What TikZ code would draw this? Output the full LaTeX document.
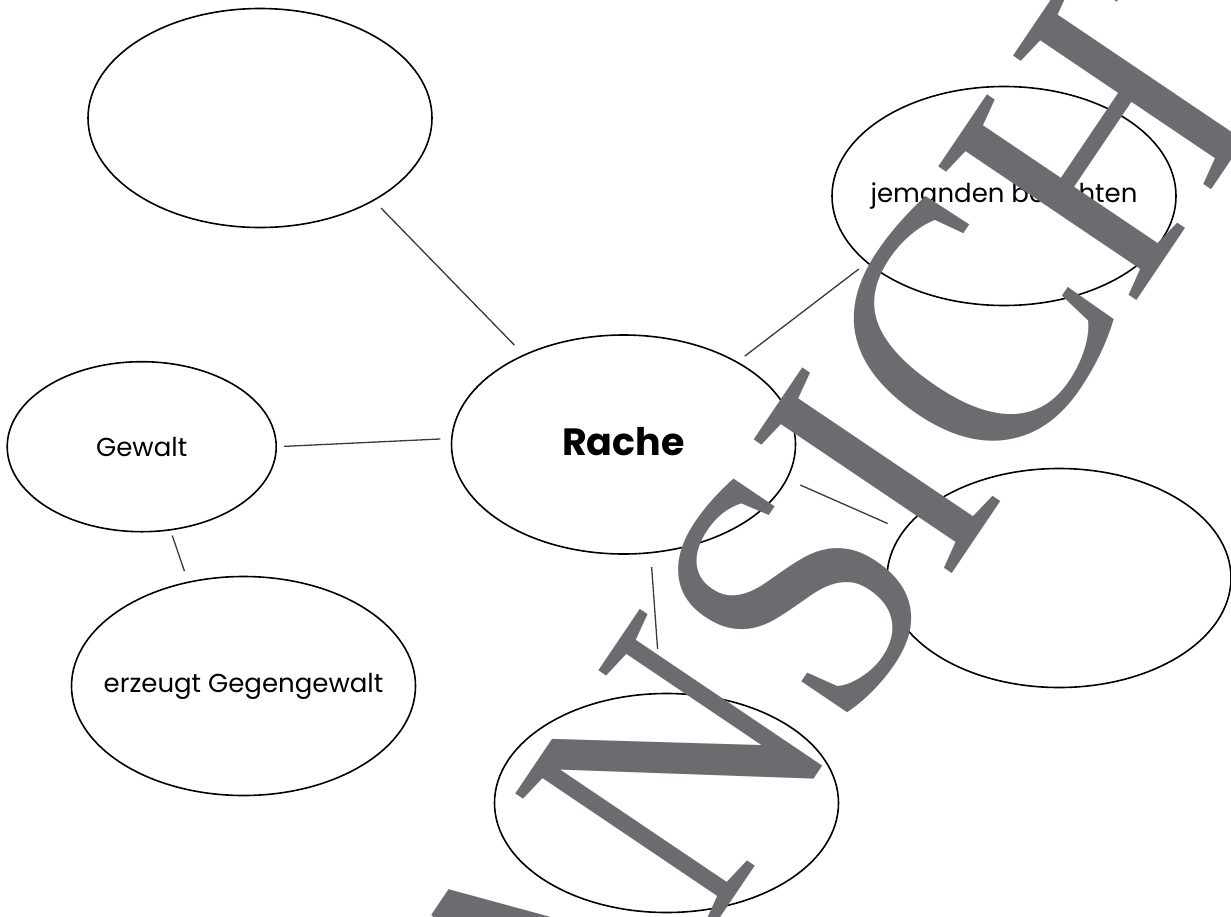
\documentclass[tikz,border=0pt]{standalone}
\usepackage{fontspec}
\setmainfont{Poppins}
\newfontfamily\wmfont{Liberation Serif}
\usetikzlibrary{shapes.geometric}
\definecolor{wmgray}{HTML}{6B6C70}
\definecolor{linegray}{HTML}{3A3A3A}
\newcommand{\ctext}[1]{\makebox[0pt]{#1}}
\tikzset{
  bubble/.style={ellipse, draw=black, line width=1.6pt, fill=white, inner sep=0pt,
    minimum width=344pt, minimum height=219pt, font=\fontsize{26}{30}\selectfont},
  smallbubble/.style={bubble, minimum width=269pt, minimum height=170pt},
  link/.style={draw=linegray, line width=1.3pt},
}
\begin{document}
\begin{tikzpicture}[x=1pt,y=-1pt]
\useasboundingbox (0,0) rectangle (1231,916);
\fill[white] (0,0) rectangle (1231,916);
\node[bubble] (tl) at (260,118) {};
\node[bubble] (jem) at (1004,196) {\ctext{jemanden beachten}};
\node[bubble] (rache) at (623.5,444.5) {\raisebox{7pt}{\ctext{\fontsize{38}{40}\selectfont\bfseries Rache}}};
\node[smallbubble] (gewalt) at (141.7,446.7) {\ctext{Gewalt}};
\node[bubble] (erz) at (243.5,686) {\ctext{erzeugt Gegengewalt}};
\node[bubble] (right) at (1059,578) {};
\node[bubble] (bottom) at (666.5,803) {};
\draw[link, shorten >=13pt, shorten <=10pt] (tl.-36.3) -- (rache.138.1);
\draw[link, shorten <=9pt, shorten >=10pt] (rache.36.2) -- (jem.206.4);
\draw[link, shorten <=14pt, shorten >=17pt] (rache.-12.4) -- (right.163.5);
\draw[link, shorten <=13.6pt, shorten >=44pt] (rache.-76.2) -- (bottom.93.5);
\draw[link, shorten <=7pt, shorten >=10.6pt] (gewalt.0.7) -- (rache.178.3);
\draw[link, shorten <=5.3pt, shorten >=11pt] (gewalt.-71.8) -- (erz.118.5);
\node[rotate=56, text=wmgray, inner sep=0pt, font=\wmfont\fontsize{365}{365}\selectfont] (wm) at (878,471) {\scalebox{0.91}[1]{ANSICHT}};
\end{tikzpicture}
\end{document}
